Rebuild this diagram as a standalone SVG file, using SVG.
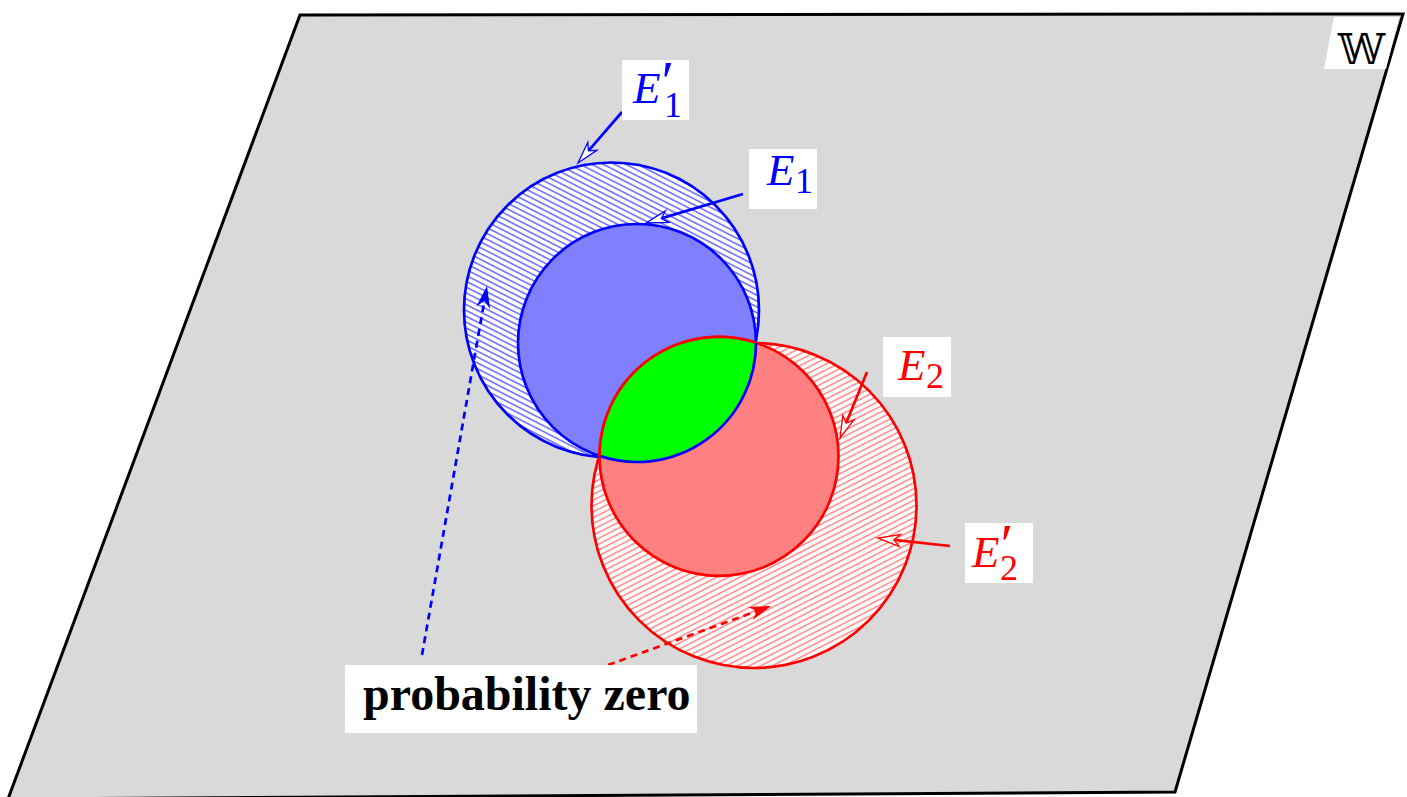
<svg xmlns="http://www.w3.org/2000/svg" width="1407" height="797" viewBox="0 0 1407 797">
<style>
.lbl{font-family:"Liberation Serif","Times New Roman",serif;}
.it{font-style:italic;}
.box{fill:#ffffff;stroke:none;}
.blue{fill:#0000ff;}
.red{fill:#ff0000;}
.bl{stroke:#0000ff;stroke-width:2.7;fill:none;}
.rl{stroke:#ff0000;stroke-width:2.7;fill:none;}
.dash{stroke-dasharray:7 5;}
</style>
<defs>
<pattern id="hb" patternUnits="userSpaceOnUse" width="12" height="5.2" patternTransform="rotate(27)">
<rect width="12" height="5.2" fill="#ffffff"/>
<line x1="0" y1="2.6" x2="12" y2="2.6" stroke="#0000ff" stroke-width="0.9"/>
</pattern>
<pattern id="hr" patternUnits="userSpaceOnUse" width="12" height="5.2" patternTransform="rotate(-27)">
<rect width="12" height="5.2" fill="#ffffff"/>
<line x1="0" y1="2.6" x2="12" y2="2.6" stroke="#ff0000" stroke-width="0.75"/>
</pattern>
<marker id="ob" markerUnits="userSpaceOnUse" viewBox="-8 -8 26 16" markerWidth="26" markerHeight="16" refX="0" refY="0" orient="auto" overflow="visible">
<path d="M16,0 L-6,-6 L0,0 L-6,6 Z" fill="#ffffff" stroke="#0000ff" stroke-width="1.3"/>
</marker>
<marker id="or" markerUnits="userSpaceOnUse" viewBox="-8 -8 26 16" markerWidth="26" markerHeight="16" refX="0" refY="0" orient="auto" overflow="visible">
<path d="M16,0 L-6,-6 L0,0 L-6,6 Z" fill="#ffffff" stroke="#ff0000" stroke-width="1.3"/>
</marker>
<marker id="fb" markerUnits="userSpaceOnUse" viewBox="-8 -8 26 16" markerWidth="26" markerHeight="16" refX="0" refY="0" orient="auto" overflow="visible">
<path d="M15,0 L-7,-7 L0,0 L-7,7 Z" fill="#0000ff"/>
</marker>
<marker id="fr" markerUnits="userSpaceOnUse" viewBox="-8 -8 26 16" markerWidth="26" markerHeight="16" refX="0" refY="0" orient="auto" overflow="visible">
<path d="M15,0 L-7,-7 L0,0 L-7,7 Z" fill="#ff0000"/>
</marker>
</defs>

<g id="plane">
<polygon points="300,15 1403,14 1175,792 8,799" fill="#d9d9d9" stroke="#000000" stroke-width="3" stroke-linejoin="miter"/>
</g>

<g id="label-W">
<polygon class="box" points="1334,17 1399,17 1386,69 1324,69"/>
<text x="1338" y="64" font-family="DejaVu Serif, DejaVu Sans, serif" font-size="42" fill="#000000">𝕎</text>
</g>

<g id="E1prime">
<circle cx="611.5" cy="310" r="147.5" fill="url(#hb)"/>
<circle cx="611.5" cy="310" r="147.5" class="bl"/>
</g>
<g id="E2prime">
<circle cx="754" cy="505.5" r="162.5" fill="url(#hr)"/>
<circle cx="754" cy="505.5" r="162.5" class="rl"/>
</g>
<g id="E1">
<circle cx="637" cy="343" r="119" fill="#8080ff" stroke="#0000ff" stroke-width="2.7"/>
</g>
<g id="E2">
<circle cx="719" cy="456.3" r="119.5" fill="#ff8080" stroke="#ff0000" stroke-width="2.7"/>
</g>
<g id="intersection">
<path d="M599.5,455.9 A119.5,119.5 0 0 1 756,342.7 A119,119 0 0 1 599.5,455.9 Z" fill="#00ff00"/>
<path d="M756,342.7 A119,119 0 0 1 599.5,455.9" class="bl"/>
<path d="M599.5,455.9 A119.5,119.5 0 0 1 756,342.7" class="rl" stroke-width="3.3"/>
</g>

<g id="connectors">
<line x1="622" y1="112" x2="588.4" y2="150.9" class="bl" stroke-width="2.8" marker-end="url(#ob)"/>
<line x1="743" y1="194" x2="661.3" y2="218.4" class="bl" stroke-width="2.8" marker-end="url(#ob)"/>
<line x1="867" y1="372" x2="846.1" y2="423.2" class="rl" stroke-width="2.8" marker-end="url(#or)"/>
<line x1="950" y1="546" x2="893.9" y2="539.8" class="rl" stroke-width="2.8" marker-end="url(#or)"/>
<line x1="422" y1="655" x2="484.4" y2="300.8" class="bl dash" stroke-width="2.8" marker-end="url(#fb)"/>
<line x1="608" y1="665" x2="756.9" y2="611.1" class="rl dash" stroke-width="2.8" marker-end="url(#fr)"/>
</g>

<g id="label-E1prime">
<rect class="box" x="622" y="60" width="67" height="60"/>
<text class="lbl it blue" x="633" y="103" font-size="45">E</text>
<text class="lbl it blue" x="658" y="101" font-size="58">′</text>
<text class="lbl blue" x="664" y="117" font-size="36">1</text>
</g>
<g id="label-E1">
<rect class="box" x="749" y="149" width="68" height="60"/>
<text class="lbl it blue" x="767" y="185" font-size="45">E</text>
<text class="lbl blue" x="795" y="193" font-size="36">1</text>
</g>
<g id="label-E2">
<rect class="box" x="883" y="337" width="68" height="60"/>
<text class="lbl it red" x="898" y="380" font-size="45">E</text>
<text class="lbl red" x="926" y="388" font-size="36">2</text>
</g>
<g id="label-E2prime">
<rect class="box" x="965" y="523" width="68" height="60"/>
<text class="lbl it red" x="972" y="567" font-size="45">E</text>
<text class="lbl it red" x="997" y="564" font-size="58">′</text>
<text class="lbl red" x="1000" y="580" font-size="36">2</text>
</g>
<g id="label-prob">
<rect class="box" x="345" y="665" width="352" height="68"/>
<text class="lbl" x="363" y="710" font-size="48" font-weight="bold" fill="#000000">probability zero</text>
</g>
</svg>
